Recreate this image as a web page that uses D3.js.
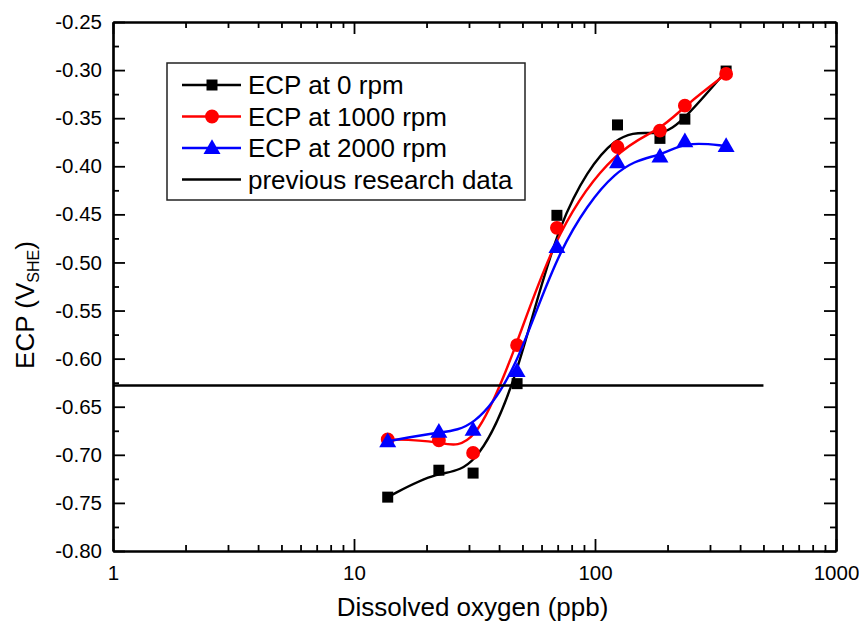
<!DOCTYPE html>
<html>
<head>
<meta charset="utf-8">
<script src="https://cdn.jsdelivr.net/npm/d3@7"></script>
<style>
  body { margin: 0; background: #fff; }
  svg { display: block; }
  text { font-family: "Liberation Sans", Arial, sans-serif; fill: #000; }
</style>
</head>
<body>
<svg id="chart" width="859" height="627"></svg>
<script>
// dissolved oxygen (ppb) where ECP was measured
var oxygen = [13.8, 22.5, 31.2, 47.5, 69.5, 124, 186, 236, 350];
// ECP (V_SHE) for each rotation speed
var ecp0 = [-0.744, -0.716, -0.719, -0.626, -0.451, -0.357, -0.371, -0.351, -0.301];
var ecp1000 = [-0.684, -0.685, -0.698, -0.586, -0.464, -0.380, -0.363, -0.337, -0.304];
var ecp2000 = [-0.686, -0.676, -0.674, -0.613, -0.484, -0.396, -0.390, -0.374, -0.379];
// previous research line
var prevX = [1, 500];
var prevY = [-0.628, -0.628];

var seriesNames = ["ECP at 0 rpm", "ECP at 1000 rpm", "ECP at 2000 rpm", "previous research data"];
var seriesColors = ["#000000", "#ff0000", "#0000ff", "#000000"];
var seriesMarkers = ["square", "circle", "triangle", null];

var xTicks = [1, 10, 100, 1000];
var yTicks = [-0.80, -0.75, -0.70, -0.65, -0.60, -0.55, -0.50, -0.45, -0.40, -0.35, -0.30, -0.25];

var svg = d3.select("#chart");
var margin = {left: 113, right: 23, top: 22, bottom: 76};
var width = 859 - margin.left - margin.right,
    height = 627 - margin.top - margin.bottom;

var x = d3.scaleLog().domain([1, 1000]).range([0, width]);
var y = d3.scaleLinear().domain([-0.80, -0.25]).range([height, 0]);

var g = svg.append("g").attr("transform", "translate(" + margin.left + "," + margin.top + ")");

// minor ticks
var xMinor = [];
[1, 10, 100].forEach(function(dec) {
  for (var k = 2; k <= 9; k++) xMinor.push(dec * k);
});
var yMinor = [];
for (var i = 0; i < yTicks.length - 1; i++) yMinor.push((yTicks[i] + yTicks[i + 1]) / 2);

function styleAxis(sel) {
  sel.select(".domain").attr("stroke", "#000").attr("stroke-width", 2.2);
  sel.selectAll(".tick line").attr("stroke", "#000").attr("stroke-width", 1.8);
  sel.selectAll(".tick text").attr("font-size", "20.5px").attr("fill", "#000")
    .style("font-family", '"Liberation Sans", Arial, sans-serif');
}

// bottom
g.append("g").attr("transform", "translate(0," + height + ")")
  .call(d3.axisBottom(x).tickValues(xMinor).tickSizeInner(-6).tickSizeOuter(0).tickFormat(""))
  .call(styleAxis);
g.append("g").attr("transform", "translate(0," + height + ")")
  .call(d3.axisBottom(x).tickValues(xTicks).tickSizeInner(-12).tickSizeOuter(0).tickPadding(14)
    .tickFormat(d3.format("d")))
  .call(styleAxis);
// top
g.append("g")
  .call(d3.axisTop(x).tickValues(xMinor).tickSizeInner(-6).tickSizeOuter(0).tickFormat(""))
  .call(styleAxis);
g.append("g")
  .call(d3.axisTop(x).tickValues(xTicks).tickSizeInner(-12).tickSizeOuter(0).tickFormat(""))
  .call(styleAxis);
// left
g.append("g")
  .call(d3.axisLeft(y).tickValues(yMinor).tickSizeInner(-6).tickSizeOuter(0).tickFormat(""))
  .call(styleAxis);
g.append("g")
  .call(d3.axisLeft(y).tickValues(yTicks).tickSizeInner(-12).tickSizeOuter(0).tickPadding(11)
    .tickFormat(d3.format(".2f")))
  .call(styleAxis);
// right
g.append("g").attr("transform", "translate(" + width + ",0)")
  .call(d3.axisRight(y).tickValues(yMinor).tickSizeInner(-6).tickSizeOuter(0).tickFormat(""))
  .call(styleAxis);
g.append("g").attr("transform", "translate(" + width + ",0)")
  .call(d3.axisRight(y).tickValues(yTicks).tickSizeInner(-12).tickSizeOuter(0).tickFormat(""))
  .call(styleAxis);

// the minus sign in tick labels should be a hyphen like the original
g.selectAll(".tick text").text(function() { return d3.select(this).text().replace("\u2212", "-"); });

// axis titles
svg.append("text")
  .attr("x", margin.left + width / 2 - 2).attr("y", 616)
  .attr("text-anchor", "middle").attr("font-size", "26px")
  .text("Dissolved oxygen (ppb)");

var yt = svg.append("text")
  .attr("transform", "translate(34,305) rotate(-90)")
  .attr("text-anchor", "middle").attr("font-size", "26px");
yt.append("tspan").text("ECP (V");
yt.append("tspan").attr("font-size", "16px").attr("dy", 5).text("SHE");
yt.append("tspan").attr("dy", -5).text(")");

// data series
var series = [ecp0, ecp1000, ecp2000].map(function(vals, i) {
  return {
    name: seriesNames[i], color: seriesColors[i], marker: seriesMarkers[i],
    points: oxygen.map(function(o, j) { return [o, vals[j]]; })
  };
});

var line = d3.line()
  .x(function(d) { return x(d[0]); })
  .y(function(d) { return y(d[1]); })
  .curve(d3.curveBasis);

var symbolTypes = {square: d3.symbolSquare, circle: d3.symbolCircle, triangle: d3.symbolTriangle};
var symbolSizes = {square: 121, circle: 150, triangle: 125};

function drawMarker(sel, marker, color) {
  sel.append("path")
    .attr("d", d3.symbol().type(symbolTypes[marker]).size(symbolSizes[marker]))
    .attr("fill", color);
}

series.forEach(function(s) {
  g.append("path").datum(s.points)
    .attr("d", line)
    .attr("fill", "none").attr("stroke", s.color).attr("stroke-width", 2.4);
  g.selectAll(null).data(s.points).enter().append("g")
    .attr("transform", function(d) {
      var dy = s.marker === "triangle" ? 1 : 0;
      return "translate(" + x(d[0]) + "," + (y(d[1]) + dy) + ")";
    })
    .each(function() { drawMarker(d3.select(this), s.marker, s.color); });
});

// previous research data
g.append("path")
  .datum(prevX.map(function(v, i) { return [v, prevY[i]]; }))
  .attr("d", d3.line().x(function(d) { return x(d[0]); }).y(function(d) { return y(d[1]); }))
  .attr("fill", "none").attr("stroke", "#000").attr("stroke-width", 2.4);

// legend
var legend = svg.append("g").attr("transform", "translate(167,63)");
legend.append("rect")
  .attr("width", 358).attr("height", 137)
  .attr("fill", "#fff").attr("stroke", "#222").attr("stroke-width", 1.5);

seriesNames.forEach(function(name, i) {
  var row = legend.append("g").attr("transform", "translate(0," + (22 + i * 31.5) + ")");
  row.append("line").attr("x1", 15).attr("x2", 74).attr("y1", 0).attr("y2", 0)
    .attr("stroke", seriesColors[i]).attr("stroke-width", 2.4);
  if (seriesMarkers[i]) {
    var m = row.append("g").attr("transform", "translate(45," + (seriesMarkers[i] === "triangle" ? 1 : 0) + ")");
    drawMarker(m, seriesMarkers[i], seriesColors[i]);
  }
  row.append("text").attr("x", 81).attr("y", 0).attr("dy", "0.36em")
    .attr("font-size", "26px").text(name);
});
</script>
</body>
</html>
